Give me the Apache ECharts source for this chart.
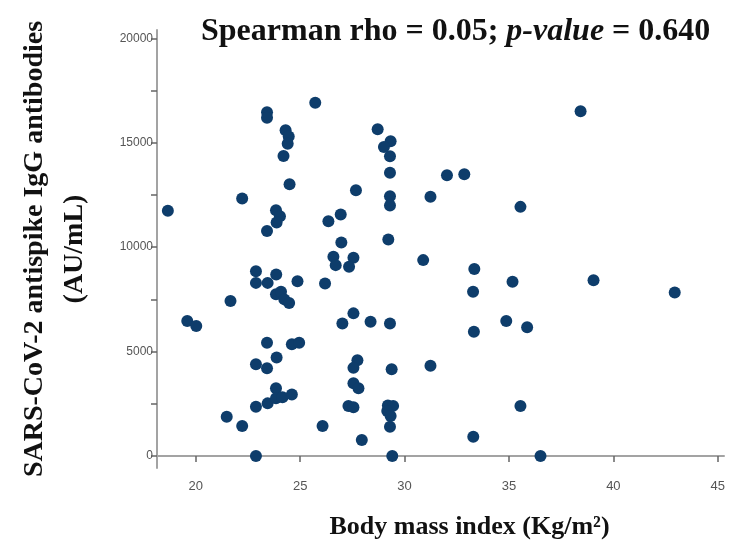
<!DOCTYPE html>
<html>
<head>
<meta charset="utf-8">
<script src="https://cdn.jsdelivr.net/npm/echarts@6/dist/echarts.min.js"></script>
<style>
  html, body { margin: 0; padding: 0; background: #fff; }
  #chart { width: 730px; height: 541px; }
</style>
</head>
<body>
<div id="chart"></div>
<script>
// body mass index (x) and antispike IgG (y)
const bmi = [
  23.41, 23.41, 25.72, 24.3, 24.45, 24.4, 24.2, 24.49, 22.22, 18.66,
  23.84, 24.03, 23.87, 23.41, 28.71, 29.33, 29.01, 29.3, 29.3, 27.67,
  29.3, 29.3, 31.24, 26.94, 26.35, 26.97, 29.22, 26.59, 26.7, 27.55,
  27.34, 30.89, 22.88, 22.88, 23.44, 24.87, 23.85, 26.19, 23.84, 24.08,
  24.24, 24.47, 21.66, 19.59, 20.02, 27.55, 27.02, 28.37, 29.3, 23.41,
  24.6, 24.95, 23.87, 22.88, 23.41, 27.74, 27.55, 29.38, 31.24, 23.84,
  27.55, 27.79, 23.44, 23.84, 24.15, 24.6, 22.88, 27.31, 27.55, 29.2,
  29.45, 29.17, 29.33, 29.3, 21.48, 22.22, 26.07, 27.95, 22.88, 29.41,
  38.43, 32.03, 32.86, 35.55, 33.34, 35.17, 39.05, 42.94, 33.28, 34.87,
  35.87, 33.32, 35.55, 33.29, 36.51
];
const igg = [
  16460, 16200, 16920, 15600, 15300, 14950, 14370, 13010, 12330, 11740,
  11770, 11480, 11180, 10770, 15650, 15070, 14800, 14350, 13560, 12730,
  12440, 12000, 12410, 11560, 11240, 10220, 10370, 9540, 9140, 9490,
  9060, 9380, 8850, 8290, 8290, 8370, 8690, 8260, 7750, 7860,
  7500, 7330, 7420, 6460, 6230, 6830, 6350, 6430, 6350, 5420,
  5350, 5420, 4720, 4390, 4200, 4590, 4220, 4150, 4320, 3240,
  3480, 3240, 2520, 2760, 2810, 2950, 2360, 2390, 2330, 2420,
  2400, 2150, 1910, 1400, 1880, 1440, 1440, 770, 0, 0,
  16510, 13440, 13490, 11930, 8950, 8340, 8420, 7830, 7860, 6460,
  6170, 5950, 2390, 920, 0
];
const xTicks = [20, 25, 30, 35, 40, 45];
const yTicks = [0, 2500, 5000, 7500, 10000, 12500, 15000, 17500, 20000];
const yLabels = [0, 5000, 10000, 15000, 20000];

const points = bmi.map((b, i) => [b, igg[i]]);

const serif = '"Liberation Serif", "Times New Roman", serif';

const axisLine = { lineStyle: { color: '#a3a3a3', width: 2 } };
const axisTick = { length: 6, lineStyle: { color: '#666', width: 1.5 } };

const option = {
    animation: false,
    backgroundColor: '#fff',
    title: {
        text: '{b|Spearman rho = 0.05; }{i|p-value}{b| = 0.640}',
        left: 196,
        top: 11,
        textStyle: {
            rich: {
                b: { fontFamily: serif, fontWeight: 'bold', fontSize: 32, color: '#111' },
                i: { fontFamily: serif, fontWeight: 'bold', fontStyle: 'italic', fontSize: 32, color: '#111' }
            }
        }
    },
    grid: {
        left: 157,
        right: 6,
        top: 30,
        bottom: 73,
        outerBoundsMode: 'none'
    },
    xAxis: {
        type: 'value',
        min: 18.14,
        max: 45.3,
        name: 'Body mass index (Kg/m²)',
        nameLocation: 'middle',
        nameGap: 46,
        nameTextStyle: { fontFamily: serif, fontWeight: 'bold', fontSize: 26, color: '#111', padding: [0, 0, 0, 58] },
        splitLine: { show: false },
        axisLine: axisLine,
        axisTick: Object.assign({ customValues: xTicks }, axisTick),
        axisLabel: {
            customValues: xTicks,
            margin: 12,
            color: '#555',
            fontSize: 13,
            fontFamily: '"Liberation Sans Narrow", "Liberation Sans", Arial, sans-serif'
        }
    },
    yAxis: {
        type: 'value',
        min: -575,
        max: 20400,
        name: 'SARS-CoV-2 antispike IgG antibodies\n(AU/mL)',
        nameLocation: 'middle',
        nameRotate: 90,
        nameGap: 62,
        nameTextStyle: { fontFamily: serif, fontWeight: 'bold', fontSize: 28, color: '#111', lineHeight: 40, align: 'center' },
        splitLine: { show: false },
        axisLine: axisLine,
        axisTick: Object.assign({ customValues: yTicks }, axisTick),
        axisLabel: {
            customValues: yLabels,
            formatter: v => String(v),
            margin: 4,
            color: '#555',
            fontSize: 12,
            fontFamily: '"Liberation Sans", Arial, sans-serif'
        }
    },
    series: [{
        type: 'scatter',
        data: points,
        symbolSize: 12,
        itemStyle: { color: '#0e3d6b', opacity: 1 }
    }]
};

const chart = echarts.init(document.getElementById('chart'));
chart.setOption(option);
</script>
</body>
</html>
